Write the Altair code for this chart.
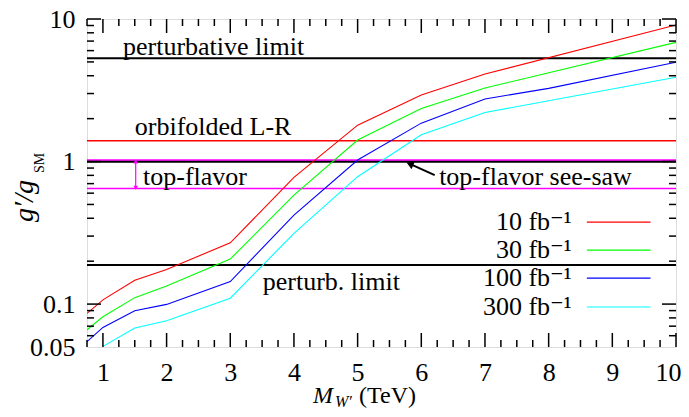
import altair as alt
import pandas as pd

# ---- data ----
mass_a = [0.75, 1, 1.5, 2, 3, 4, 5, 6, 7, 10]
g_10fb = [0.086, 0.107, 0.147, 0.175, 0.269, 0.774, 1.80, 2.93, 4.11, 9.08]
g_30fb = [0.066, 0.0815, 0.111, 0.134, 0.207, 0.582, 1.416, 2.36, 3.28, 6.86]
mass_b = [0.75, 1, 1.5, 2, 3, 4, 5, 6, 7, 8, 10]
g_100fb = [0.0545, 0.0686, 0.0898, 0.0995, 0.144, 0.421, 1.025, 1.86, 2.75, 3.26, 4.97]
mass_c = [1, 1.5, 2, 3, 4, 5, 6, 7, 10]
g_300fb = [0.0505, 0.068, 0.0764, 0.110, 0.313, 0.783, 1.54, 2.21, 3.90]

series_labels = ["10 fb⁻¹", "30 fb⁻¹", "100 fb⁻¹", "300 fb⁻¹"]
series_colors = ["#ff0000", "#00ff00", "#0000ff", "#00ffff"]

# horizontal reference lines
hline_values = [5.3, 1.40, 1.0, 1.025, 0.648, 0.188]
hline_colors = ["black", "#ff0000", "black", "#ff00ff", "#ff00ff", "black"]
hline_widths = [2, 1.5, 2.5, 1.5, 1.5, 2]

# annotations
ann_text = ["perturbative limit", "orbifolded L-R", "top-flavor", "top-flavor see-saw", "perturb. limit"]
ann_x = [1.315, 1.50, 1.63, 6.28, 3.51]
ann_y = [6.36, 1.75, 0.778, 0.778, 0.1425]

# legend placement (data coordinates)
leg_text_x = 8.36
leg_line_x = [8.60, 9.60]
leg_y = [0.376, 0.239, 0.152, 0.0953]

# top-flavor double arrow
tf_arrow_x = 1.515
tf_arrow_y = [1.0, 0.655]
# see-saw arrow: tail -> head
ss_arrow_x = [6.21, 5.82]
ss_arrow_y = [0.804, 0.962]

x_ticks = [1, 2, 3, 4, 5, 6, 7, 8, 9, 10]
x_minor = [v / 4 for v in range(3, 40) if v % 4 != 0]
y_ticks = [0.05, 0.1, 1, 10]
y_major = [0.1, 1, 10]
y_minor = [0.06, 0.07, 0.08, 0.09, 0.2, 0.3, 0.4, 0.5, 0.6, 0.7, 0.8, 0.9,
           2, 3, 4, 5, 6, 7, 8, 9]

W, H = 589, 328
FONT = "'Liberation Serif', 'Times New Roman', 'DejaVu Serif', serif"
FS = 26

# ---- build tables ----
rows = []
for lab, xs, ys in [(series_labels[0], mass_a, g_10fb), (series_labels[1], mass_a, g_30fb),
                    (series_labels[2], mass_b, g_100fb), (series_labels[3], mass_c, g_300fb)]:
    for i, (xv, yv) in enumerate(zip(xs, ys)):
        rows.append({"series": lab, "mass": xv, "g": yv, "i": i})
lines_df = pd.DataFrame(rows)

hl_df = pd.DataFrame({"y": hline_values, "c": hline_colors, "w": hline_widths})
ann_df = pd.DataFrame({"t": ann_text, "x": ann_x, "y": ann_y})
leg_df = pd.DataFrame({"t": series_labels, "c": series_colors, "y": leg_y,
                       "x": [leg_text_x] * 4, "x1": [leg_line_x[0]] * 4, "x2": [leg_line_x[1]] * 4})

xs_ = alt.Scale(domain=[0.75, 10], nice=False, zero=False)
ys_ = alt.Scale(type="log", domain=[0.05, 10], nice=False)

xaxis = alt.Axis(values=x_ticks, title=None, grid=False, domain=False, ticks=False, tickSize=0,
                 labelFont=FONT, labelFontSize=FS, labelColor="black", labelPadding=12,
                 labelFlush=True, labelFlushOffset=5)
yaxis = alt.Axis(values=y_ticks, title=None, grid=False, domain=False, ticks=False, tickSize=0,
                 format="~g", labelFont=FONT, labelFontSize=FS, labelColor="black", labelPadding=12)


def X(f):
    return alt.X(f, type="quantitative", scale=xs_, axis=xaxis)


def Y(f):
    return alt.Y(f, type="quantitative", scale=ys_, axis=yaxis)


base_lines = alt.Chart(lines_df).mark_line(strokeWidth=1.1, clip=True).encode(
    x=X("mass"), y=Y("g"),
    color=alt.Color("series:N", scale=alt.Scale(domain=series_labels, range=series_colors), legend=None),
    order="i:Q",
)

hlines = alt.Chart(hl_df).mark_rule().encode(
    y=Y("y"), color=alt.Color("c:N", scale=None), strokeWidth=alt.StrokeWidth("w:Q", scale=None),
)

ann = alt.Chart(ann_df).mark_text(align="left", baseline="middle", font=FONT, fontSize=FS, color="black").encode(
    x=X("x"), y=Y("y"), text="t:N")

leg_text = alt.Chart(leg_df).mark_text(align="right", baseline="middle", font=FONT, fontSize=FS, color="black").encode(
    x=X("x"), y=Y("y"), text="t:N")
leg_lines = alt.Chart(leg_df).mark_rule(strokeWidth=1.1).encode(
    x=X("x1"), x2="x2", y=Y("y"), color=alt.Color("c:N", scale=None))

tf_df = pd.DataFrame({"x": [tf_arrow_x], "y1": [tf_arrow_y[0]], "y2": [tf_arrow_y[1]]})
tf_rule = alt.Chart(tf_df).mark_rule(color="#ff00ff", strokeWidth=1.2).encode(x=X("x"), y=Y("y1"), y2="y2")
tf_heads = alt.Chart(pd.DataFrame({"x": [tf_arrow_x] * 2, "y": tf_arrow_y, "s": ["triangle-up", "triangle-down"]})).mark_point(
    filled=True, color="#ff00ff", size=22, opacity=1).encode(
    x=X("x"), y=Y("y"), shape=alt.Shape("s:N", scale=None))

ss_df = pd.DataFrame({"x": [ss_arrow_x[0]], "x2": [ss_arrow_x[1]], "y": [ss_arrow_y[0]], "y2": [ss_arrow_y[1]]})
ss_rule = alt.Chart(ss_df).mark_rule(color="black", strokeWidth=2).encode(x=X("x"), x2="x2", y=Y("y"), y2="y2")
ss_head = alt.Chart(pd.DataFrame({"x": [ss_arrow_x[1]], "y": [ss_arrow_y[1]]})).mark_point(
    filled=True, color="black", size=70, opacity=1, shape="triangle-up", angle=293).encode(x=X("x"), y=Y("y"))

# ticks (inward on all four sides)
xmaj_df = pd.DataFrame({"x": x_ticks})
xmin_df = pd.DataFrame({"x": x_minor})
ymaj_df = pd.DataFrame({"y": y_major})
ymin_df = pd.DataFrame({"y": y_minor})
tick_layers = []
for df, L in [(xmaj_df, 14), (xmin_df, 7)]:
    tick_layers.append(alt.Chart(df).mark_rule(color="black", strokeWidth=1.5).encode(
        x=X("x"), y=alt.value(H), y2=alt.value(H - L)))
    tick_layers.append(alt.Chart(df).mark_rule(color="black", strokeWidth=1.5).encode(
        x=X("x"), y=alt.value(0), y2=alt.value(L)))
for df, L in [(ymaj_df, 14), (ymin_df, 7)]:
    tick_layers.append(alt.Chart(df).mark_rule(color="black", strokeWidth=1.5).encode(
        y=Y("y"), x=alt.value(0), x2=alt.value(L)))
    tick_layers.append(alt.Chart(df).mark_rule(color="black", strokeWidth=1.5).encode(
        y=Y("y"), x=alt.value(W), x2=alt.value(W - L)))

# axis titles as text pieces
title_df = pd.DataFrame({"d": [0]})
ytitle_main = alt.Chart(title_df).mark_text(text="g′/g", font=FONT, fontSize=FS + 2, fontStyle="italic",
                                            angle=270, align="center", baseline="alphabetic", color="black").encode(
    x=alt.value(-54), y=alt.value(182))
ytitle_sub = alt.Chart(title_df).mark_text(text="SM", font=FONT, fontSize=14, angle=270, align="center",
                                           baseline="alphabetic", color="black").encode(
    x=alt.value(-43), y=alt.value(144))
xtitle_m = alt.Chart(title_df).mark_text(text="M", font=FONT, fontSize=24, fontStyle="italic", align="left",
                                         baseline="alphabetic", color="black").encode(x=alt.value(226), y=alt.value(384))
xtitle_w = alt.Chart(title_df).mark_text(text="W′", font=FONT, fontSize=16, fontStyle="italic", align="left",
                                         baseline="alphabetic", color="black").encode(x=alt.value(248), y=alt.value(388))
xtitle_t = alt.Chart(title_df).mark_text(text="(TeV)", font=FONT, fontSize=24, align="left",
                                         baseline="alphabetic", color="black").encode(x=alt.value(272), y=alt.value(384))

chart = alt.layer(
    hlines, base_lines, ann, leg_text, leg_lines, tf_rule, tf_heads, ss_rule, ss_head,
    *tick_layers, ytitle_main, ytitle_sub, xtitle_m, xtitle_w, xtitle_t
).properties(
    width=W, height=H,
    autosize=alt.AutoSizeParams(type="none"),
    padding={"left": 79, "top": 11, "right": 5, "bottom": 62},
).configure_view(stroke="black", strokeWidth=2).configure(background="white")

chart.save("out.html", embed_options={"renderer": "svg", "actions": False})
